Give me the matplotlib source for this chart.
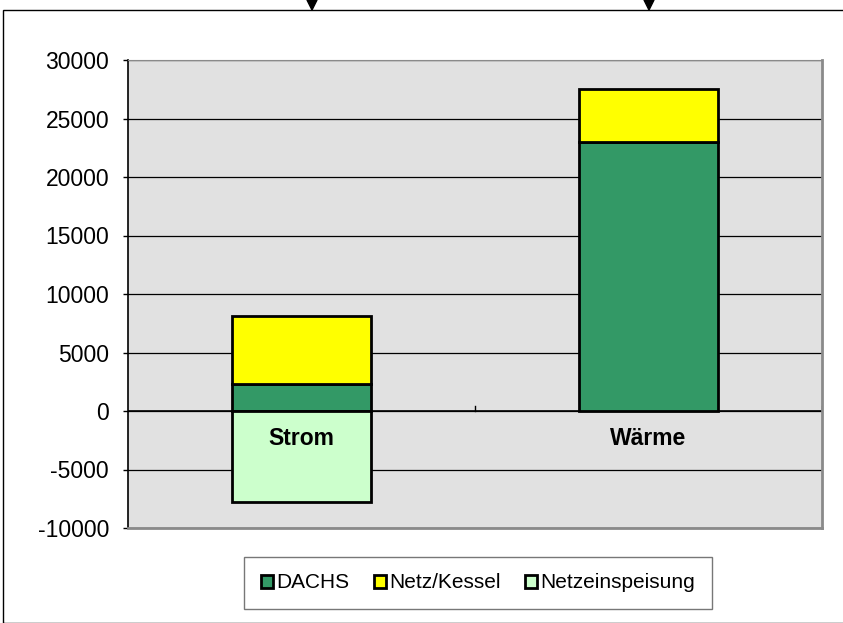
import matplotlib
matplotlib.use("Agg")
import matplotlib.pyplot as plt
from matplotlib.patches import Rectangle, Polygon

plt.rcParams['font.family'] = ['Liberation Sans', 'DejaVu Sans']

categories = ["Strom", "Wärme"]
dachs = [2300, 23000]
netz_kessel = [5800, 4500]
netzeinspeisung = [-7800, 0]
yticks = [-10000, -5000, 0, 5000, 10000, 15000, 20000, 25000, 30000]

fig = plt.figure(figsize=(8.43, 6.23), dpi=100)
# figure border
fig.patches.append(Rectangle((3/843, 0.0), 1.0, 1 - 10/623, transform=fig.transFigure,
                             fill=False, edgecolor='black', lw=1.0))
for xp in (312, 649):
    fig.patches.append(Polygon([((xp-5)/843, 1.0), ((xp+5)/843, 1.0), (xp/843, 1 - 10/623)],
                               closed=True, transform=fig.transFigure, color='black'))

ax = fig.add_axes([128/843, 1 - 528/623, 694/843, 468/623])
ax.set_facecolor('#E1E1E1')
x = list(range(len(categories)))
w = 0.4
ax.bar(x, dachs, w, color='#339966', edgecolor='black', lw=2, label='DACHS', zorder=3)
ax.bar(x, netz_kessel, w, bottom=dachs, color='#FFFF00', edgecolor='black', lw=2, label='Netz/Kessel', zorder=3)
ax.bar([0], [netzeinspeisung[0]], w, color='#CCFFCC', edgecolor='black', lw=2, label='Netzeinspeisung', zorder=3)

ax.set_xlim(-0.5, 1.5)
ax.set_ylim(-10000, 30000)
ax.set_yticks(yticks)
ax.set_yticklabels([str(v) for v in yticks], fontsize=16.5)
ax.tick_params(axis='y', length=3.6, width=1, pad=10, direction='out')
ax.set_xticks([])
ax.grid(axis='y', color='black', lw=0.9, zorder=1)
ax.axhline(0, color='black', lw=1.2, zorder=2)
for xt in (0.5, 1.5):
    ax.plot([xt, xt], [0, 450], color='black', lw=1, zorder=2)
for xi, c in zip(x, categories):
    ax.text(xi, -2350, c, ha='center', va='center', fontsize=16.5, fontweight='bold', zorder=4)

ax.spines['left'].set_color('black')
ax.spines['left'].set_linewidth(1.2)
ax.spines['top'].set_color('#8a8a8a')
ax.spines['right'].set_color('#8a8a8a')
ax.spines['right'].set_linewidth(2)
ax.spines['bottom'].set_color('#8a8a8a')
ax.spines['bottom'].set_linewidth(2)

leg = fig.legend(loc='center', bbox_to_anchor=(478/843, 1 - 583/623), ncol=3, fontsize=15,
                 frameon=True, fancybox=False, edgecolor='#555555', handlelength=0.6,
                 handleheight=0.6, handletextpad=0.15, columnspacing=1.15, borderpad=0.8,
                 borderaxespad=0)
leg.get_frame().set_linewidth(1)

fig.savefig('out.png', dpi=100)
